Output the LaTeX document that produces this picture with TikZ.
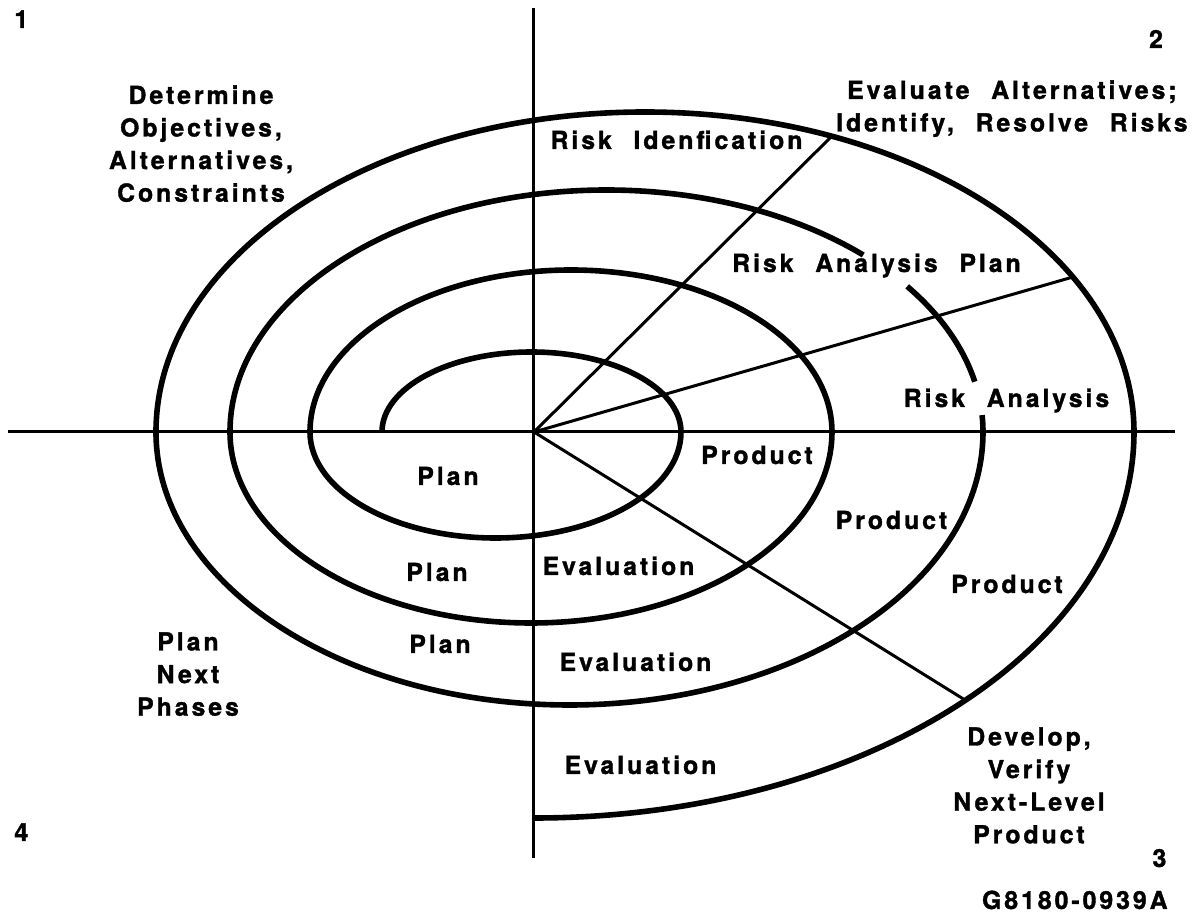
\documentclass[tikz,border=0pt]{standalone}
\usepackage{fontspec}
\newfontfamily\lblfont[LetterSpace=12,WordSpace=2.2,BoldFeatures={FakeBold=1.4}]{TeX Gyre Heros}
\usepackage{tikz}

\begin{document}
\begin{tikzpicture}[
		x=0.5pt, y=0.5pt,
		spiral/.style={line width=2.8pt},
		axis/.style={line width=1.5pt},
		spoke/.style={line width=1.5pt},
		lbl/.style={
			inner sep=0pt,
			font={\lblfont\bfseries\fontsize{12.4}{16.3}\selectfont}
		},
		block/.style={lbl, align=center}
		]
		
		\path[use as bounding box, fill=white] (-534,432) rectangle (662,-483);
		
		% Axes through the centre
		\coordinate (O) at (0,0);
		\draw[axis] (-526,0) -- (641,0);
		\draw[axis] (0,424) -- (0,-426);
		
		% Spiral, half ellipses
		\draw[spiral] (-152,0)
			arc[start angle=180, end angle=0, x radius=149.5, y radius=80]
			arc[start angle=0, end angle=-180, x radius=185.5, y radius=106]
			arc[start angle=180, end angle=0, x radius=261, y radius=162]
			arc[start angle=0, end angle=-180, x radius=301, y radius=191]
			arc[start angle=180, end angle=47, x radius=376.5, y radius=242];
		\draw[spiral] (72.5,0) ++(37:376.5 and 242)
			arc[start angle=37, end angle=12, x radius=376.5, y radius=242];
		\draw[spiral] (72.5,0) ++(4:376.5 and 242)
			arc[start angle=4, end angle=0, x radius=376.5, y radius=242]
			arc[start angle=0, end angle=-180, x radius=413.5, y radius=273]
			arc[start angle=180, end angle=0, x radius=489, y radius=320]
			arc[start angle=0, end angle=-90, x radius=600, y radius=386];
		
		% Spokes
		\coordinate (idend) at (299,297);
		\coordinate (raend) at (539,155);
		\coordinate (devend) at (431,-268);
		\draw[spoke] (O) -- (idend);
		\draw[spoke] (O) -- (raend);
		\draw[spoke] (O) -- (devend);
		
		% Quadrant numbers
		\node[lbl, anchor=base west] (qone) at (-520,404) {1};
		\node[lbl, anchor=base] (qtwo) at (622,384) {2};
		\node[lbl, anchor=base] (qthree) at (625.5,-435) {3};
		\node[lbl, anchor=base west] (qfour) at (-520,-409) {4};
		\node[lbl, anchor=base east] (figid) at (634,-477) {G8180-0939A};
		
		% Quadrant headings
		\node[block, anchor=north] (objectives) at (-333,347) {
			Determine\\
			Objectives,\\
			Alternatives,\\
			Constraints
		};
		\node[block, anchor=north east] (evaluate) at (654,352) {
			Evaluate Alternatives;\\
			Identify, Resolve Risks
		};
		\node[block, anchor=north] (planphases) at (-346,-200) {
			Plan\\
			Next\\
			Phases
		};
		\node[block, anchor=north] (develop) at (495,-295) {
			Develop,\\
			Verify\\
			Next-Level\\
			Product
		};
		
		% Ring labels
		\node[lbl, anchor=base] (riskid) at (142.5,283) {Risk Idenfication};
		\node[lbl, anchor=base] (riskplan) at (342.5,160) {Risk Analysis Plan};
		\node[lbl, anchor=base] (riskanalysis) at (472.5,25) {Risk Analysis};
		\node[lbl, anchor=base] (prodone) at (223,-32) {Product};
		\node[lbl, anchor=base] (prodtwo) at (357.5,-97) {Product};
		\node[lbl, anchor=base] (prodthree) at (473,-161) {Product};
		\node[lbl, anchor=base] (planone) at (-86,-53) {Plan};
		\node[lbl, anchor=base] (plantwo) at (-97,-149) {Plan};
		\node[lbl, anchor=base] (planthree) at (-94,-221) {Plan};
		\node[lbl, anchor=base] (evalone) at (84.5,-143) {Evaluation};
		\node[lbl, anchor=base] (evaltwo) at (101.5,-239) {Evaluation};
		\node[lbl, anchor=base] (evalthree) at (106.5,-342) {Evaluation};
		
	\end{tikzpicture}
\end{document}
